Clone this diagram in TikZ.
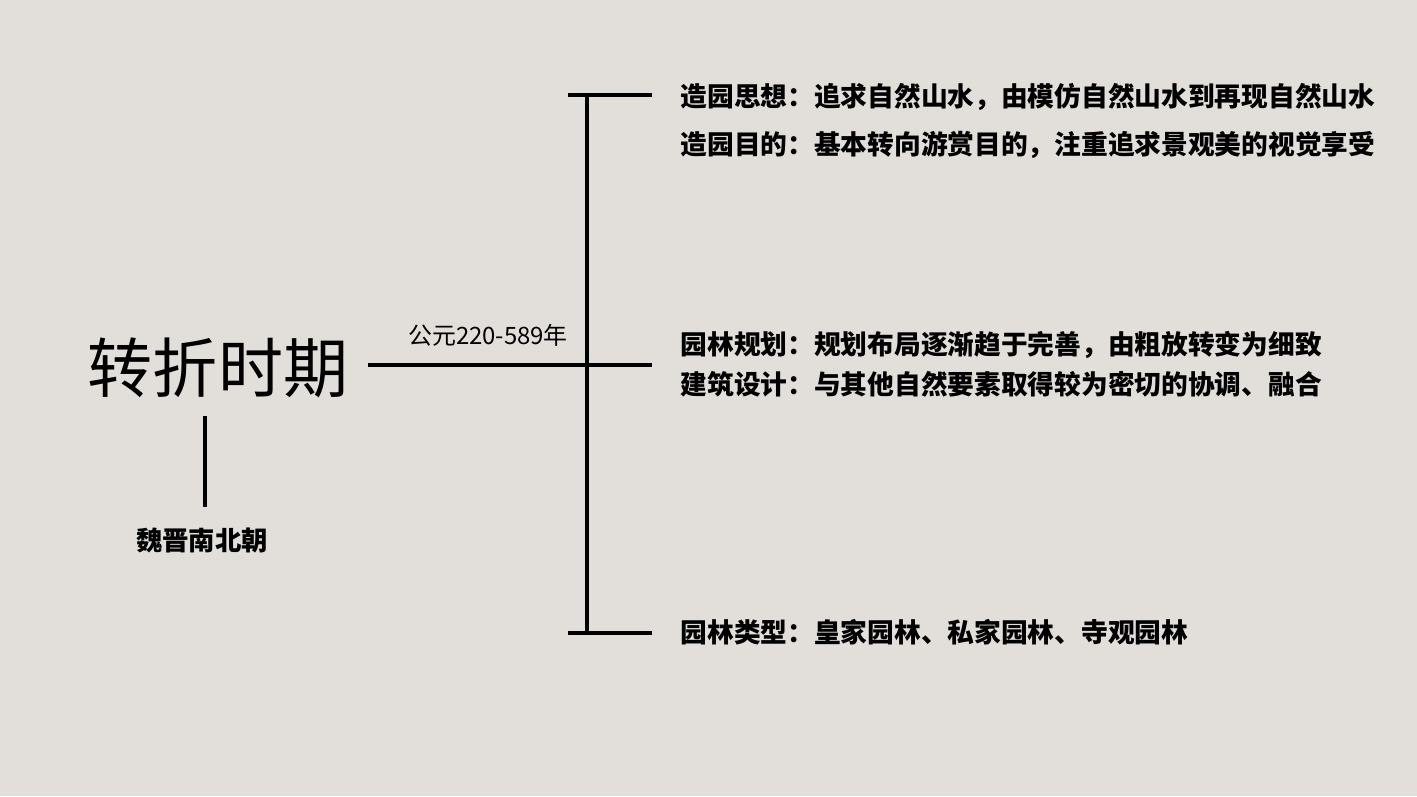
\documentclass[tikz,border=0pt]{standalone}
\usepackage{fontspec}
\setmainfont{Noto Sans CJK SC}
\definecolor{papier}{RGB}{226,223,219}
\tikzset{
  trait/.style={line width=1.2pt, line cap=rect},
  item/.style={anchor=west, inner sep=0pt, font=\fontsize{7.6}{9}\selectfont\bfseries}
}
\begin{document}
\begin{tikzpicture}
\def\barre{5.87}
\fill[papier] (0,0) rectangle (14.17,7.96);
\useasboundingbox (0,0) rectangle (14.17,7.96);

% left part
\node (titre) at (2.18,4.28) {\fontsize{18.5}{20}\selectfont 转折时期};
\node[font=\fontsize{7.5}{9}\selectfont\bfseries] (epoque) at (2.02,2.56) {魏晋南北朝};
\coordinate (pied) at (2.05,3.78);
\coordinate (tete) at (2.05,2.91);
\draw[trait] (pied) -- (tete);

% time line
\coordinate (depart) at (3.70,4.31);
\coordinate (milieu) at (6.50,4.31);
\draw[trait] (depart) -- (milieu);
\node[font=\fontsize{6.8}{8}\selectfont] (annees) at (4.88,4.61) {公元220-589年};

% bracket
\coordinate (haut) at (\barre,7.01);
\coordinate (bas) at (\barre,1.63);
\draw[trait] (haut) -- (bas);
\draw[trait] (5.70,7.01) -- (6.50,7.01);
\draw[trait] (5.70,1.63) -- (6.50,1.63);

% items
\node[item] (pensee) at (6.80,6.99) {造园思想：追求自然山水，由模仿自然山水到再现自然山水};
\node[item] (but) at (6.80,6.51) {造园目的：基本转向游赏目的，注重追求景观美的视觉享受};
\node[item] (plan) at (6.80,4.51) {园林规划：规划布局逐渐趋于完善，由粗放转变为细致};
\node[item] (archi) at (6.80,4.12) {建筑设计：与其他自然要素取得较为密切的协调、融合};
\node[item] (types) at (6.80,1.64) {园林类型：皇家园林、私家园林、寺观园林};

\end{tikzpicture}
\end{document}
